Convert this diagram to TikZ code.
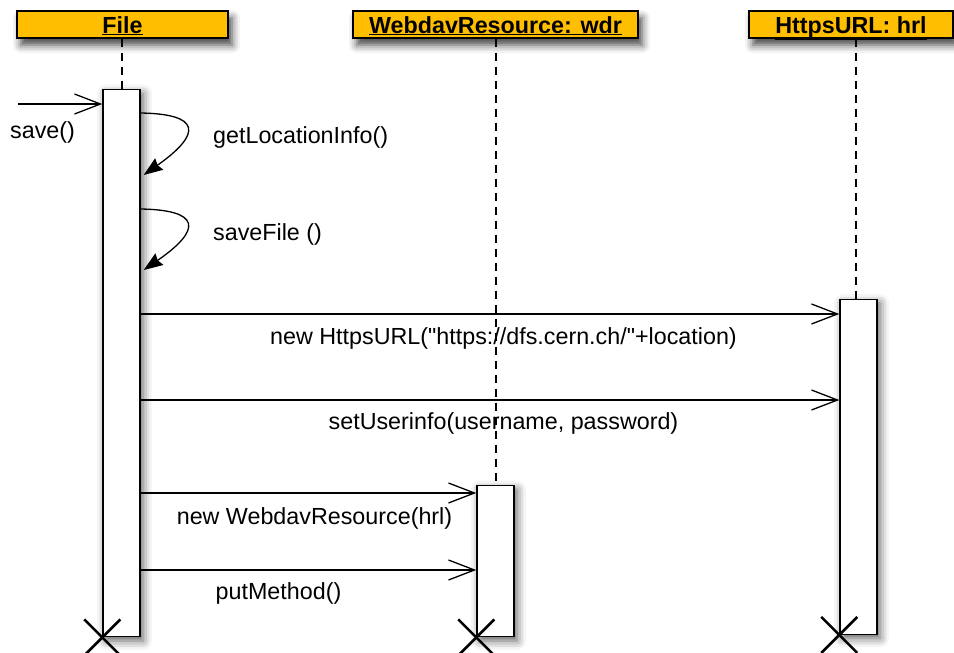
\documentclass[tikz,border=0pt]{standalone}
\usepackage{fontspec}
\setmainfont[Ligatures=TeXOff]{Liberation Sans}
\usetikzlibrary{arrows.meta,shadows.blur}
\definecolor{headfill}{HTML}{FFBF00}

\begin{document}
\begin{tikzpicture}[x=1pt,y=-1pt,
  txt/.style={font=\fontsize{23.3}{27}\selectfont},
  header/.style={draw, line width=1.4pt, fill=headfill, minimum height=27pt,
    inner sep=0pt, text height=17pt, text depth=0pt,
    font=\fontsize{23.3}{27}\selectfont\bfseries,
    blur shadow={shadow xshift=4pt, shadow yshift=-7pt, shadow blur radius=8pt, shadow opacity=75}},
  act/.style={draw, fill=white, line width=1.4pt, minimum width=37pt, inner sep=0pt,
    anchor=north,
    blur shadow={shadow xshift=3pt, shadow yshift=-4pt, shadow blur radius=9pt, shadow opacity=65}},
  lifeline/.style={line width=1.2pt, dash pattern=on 8pt off 6pt},
  msg/.style={line width=1.3pt, -{Straight Barb[length=26pt,width=20pt,line width=1.3pt]}},
  selfmsg/.style={line width=1.3pt, -{Stealth[length=19pt,width=14pt,inset=2pt]}},
  lbl/.style={txt, inner sep=0pt},
  xmark/.style={line width=2.6pt}
]
\useasboundingbox (0,0) rectangle (954,653);

% object headers
\node[header, minimum width=211pt] (file) at (122.5,24.5) {\underline{File}};
\node[header, minimum width=285pt] (wdr) at (495.5,24.5) {\underline{WebdavResource: wdr}};
\node[header, minimum width=204pt] (hrl) at (851,24.5) {\underline{HttpsURL: hrl}};

% lifelines
\coordinate (fileend) at (122,636);
\coordinate (wdrend) at (496,636);
\coordinate (hrlend) at (856,638);
\draw[lifeline] (file.south -| fileend) -- (fileend);
\draw[lifeline] (wdr.south -| wdrend) -- (wdrend);
\draw[lifeline] (hrl.south -| hrlend) -- (hrlend);

% activation bars
\node[act, minimum height=547pt] (fileact) at (121.5,89) {};
\node[act, minimum height=151pt] (wdract) at (495.5,485) {};
\node[act, minimum height=335pt] (hrlact) at (858.5,298.5) {};

% incoming call
\coordinate (caller) at (18,104);
\draw[msg] (caller) -- (caller -| fileact.west);
\node[lbl, anchor=base west] (lsave) at (10,138) {save()};

% self calls
\coordinate (s1a) at (0,113);
\coordinate (s1b) at (0,175);
\draw[selfmsg] (fileact.east |- s1a) .. controls (200,114) and (203,133) .. ([xshift=3pt]fileact.east |- s1b);
\node[lbl, anchor=base west] (lloc) at (213,143) {getLocationInfo()};

\coordinate (s2a) at (0,209);
\coordinate (s2b) at (0,270);
\draw[selfmsg] (fileact.east |- s2a) .. controls (200,210) and (203,229) .. ([xshift=3pt]fileact.east |- s2b);
\node[lbl, anchor=base west] (lsf) at (213,240) {saveFile ()};

% messages
\coordinate (m1) at (0,314);
\draw[msg] (fileact.east |- m1) -- (hrlact.west |- m1);
\node[lbl, anchor=base] (l1) at (503.5,344) {new HttpsURL("https://dfs.cern.ch/"+location)};

\coordinate (m2) at (0,400);
\draw[msg] (fileact.east |- m2) -- (hrlact.west |- m2);
\node[lbl, anchor=base] (l2) at (503.5,429) {setUserinfo(username, password)};

\coordinate (m3) at (0,493);
\draw[msg] (fileact.east |- m3) -- (wdract.west |- m3);
\node[lbl, anchor=base] (l3) at (314.5,524) {new WebdavResource(hrl)};

\coordinate (m4) at (0,570);
\draw[msg] (fileact.east |- m4) -- (wdract.west |- m4);
\node[lbl, anchor=base] (l4) at (278.5,599) {putMethod()};

% destruction marks
\foreach \b in {fileact, wdract, hrlact} {
  \draw[xmark] ([shift={(-18pt,18pt)}]\b.south west) -- ([shift={(18pt,-18pt)}]\b.south west);
  \draw[xmark] ([shift={(-18pt,-18pt)}]\b.south west) -- ([shift={(18pt,18pt)}]\b.south west);
}
\end{tikzpicture}
\end{document}
